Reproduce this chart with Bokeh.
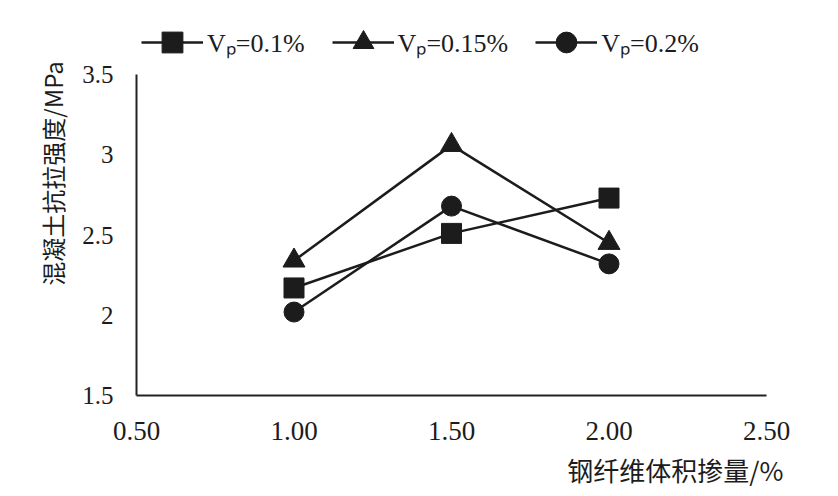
import math
from bokeh.plotting import figure
from bokeh.models import Range1d, Legend, LegendItem, Label, FixedTicker, CustomJSTickFormatter
from bokeh.embed import file_html
from bokeh.resources import INLINE

# ---- data ----
x_vals = [1.00, 1.50, 2.00]
s01 = [2.17, 2.51, 2.73]    # Vp=0.1%
s015 = [2.34, 3.06, 2.45]   # Vp=0.15%
s02 = [2.02, 2.68, 2.32]    # Vp=0.2%
series_labels = ["V\u209a=0.1%", "V\u209a=0.15%", "V\u209a=0.2%"]
x_ticks = [0.5, 1.0, 1.5, 2.0, 2.5]
y_ticks = [1.5, 2.0, 2.5, 3.0, 3.5]
x_title = "钢纤维体积掺量/%"
y_title = "混凝土抗拉强度/MPa"

# ---- layout (pixels) ----
W, H = 822, 488
AX_L, AX_R, AX_T, AX_B = 136, 766, 74, 395   # where the axes box sits on the canvas

INK = "#1c1c1c"
SERIF = "Liberation Serif"
CJK = "Noto Sans CJK SC"

x0, x1 = x_ticks[0], x_ticks[-1]
y0, y1 = y_ticks[0], y_ticks[-1]
kx = (x1 - x0) / (AX_R - AX_L)
ky = (y1 - y0) / (AX_B - AX_T)
xr = Range1d(x0 - AX_L * kx, x1 + (W - AX_R) * kx)
yr = Range1d(y0 - (H - AX_B) * ky, y1 + AX_T * ky)

p = figure(width=W, height=H, output_backend="svg", toolbar_location=None,
           x_range=xr, y_range=yr,
           min_border_left=0, min_border_right=0, min_border_top=0, min_border_bottom=0)
p.outline_line_color = None
p.xgrid.visible = False
p.ygrid.visible = False
p.background_fill_color = "white"
p.border_fill_color = "white"

p.xaxis.fixed_location = y0
p.yaxis.fixed_location = x0
p.xaxis.bounds = (x0, x1)
p.yaxis.bounds = (y0, y1)

for ax in (p.xaxis[0], p.yaxis[0]):
    ax.axis_line_color = "#222222"
    ax.axis_line_width = 2
    ax.major_tick_line_color = None
    ax.minor_tick_line_color = None
    ax.major_label_text_font = SERIF
    ax.major_label_text_color = INK
p.xaxis.major_label_text_font_size = "27px"
p.yaxis.major_label_text_font_size = "25px"
p.xaxis.major_label_standoff = 20
p.yaxis.major_label_standoff = 17

p.xaxis.ticker = FixedTicker(ticks=x_ticks)
p.yaxis.ticker = FixedTicker(ticks=y_ticks)
p.xaxis.formatter = CustomJSTickFormatter(code="return tick.toFixed(2);")
p.yaxis.formatter = CustomJSTickFormatter(code="return String(Math.round(tick*10)/10);")

renderers = []
for ys, marker, size in ((s01, "square", 20), (s015, "triangle", 22), (s02, "circle", 20)):
    lr = p.line(x_vals, ys, line_color=INK, line_width=2.5)
    sr = p.scatter(x_vals, ys, marker=marker, size=size, fill_color=INK, line_color=INK)
    renderers.append([lr, sr])

legend = Legend(items=[LegendItem(label=lab, renderers=r) for lab, r in zip(series_labels, renderers)],
                orientation="horizontal", location=(141, H - 42 - 26),
                glyph_width=62, glyph_height=52, label_standoff=4, spacing=27,
                padding=0, margin=0, border_line_color=None, background_fill_alpha=0,
                label_text_font=SERIF, label_text_font_size="26px", label_text_color=INK)
p.add_layout(legend, "center")

p.add_layout(Label(x=783, y=H - 469, x_units="screen", y_units="screen", text=x_title,
                   text_font=CJK, text_font_size="26px", text_color=INK,
                   text_align="right", text_baseline="middle"))
p.add_layout(Label(x=52, y=H - 173, x_units="screen", y_units="screen", text=y_title,
                   angle=math.pi / 2, text_font=CJK, text_font_size="24px", text_color=INK,
                   text_align="center", text_baseline="middle"))

open("out.html", "w").write(file_html(p, INLINE))
